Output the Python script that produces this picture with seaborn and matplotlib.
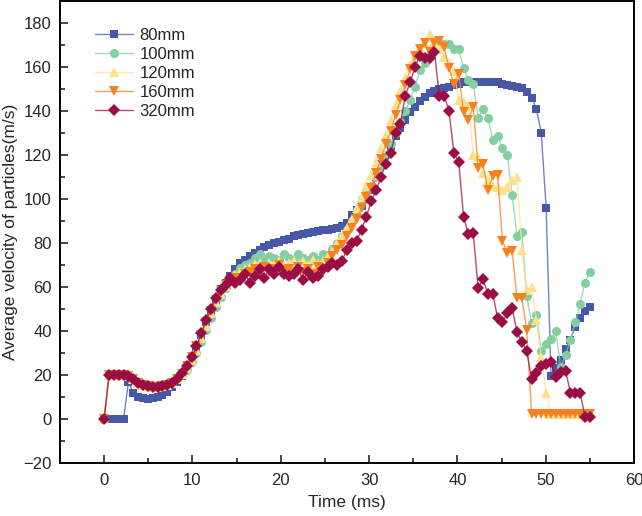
import numpy as np
import pandas as pd
import seaborn as sns
import matplotlib.pyplot as plt
from matplotlib.colors import to_rgb
from matplotlib.ticker import MultipleLocator

sns.set_style("ticks")
plt.rcParams['font.family'] = ['Liberation Sans', 'DejaVu Sans']

# time grid (ms), 101 samples from 0 to 55
time_ms = np.linspace(0, 55, 101)

v80 = [0, 0, 0, 0, 0, 17, 12, 10, 9.5, 9,
       9.5, 10, 11, 12.5, 14.5, 17, 19.5, 23, 27, 32,
       38, 44, 49, 54, 59, 62, 65, 68, 71, 72.5,
       74, 75.5, 77, 78, 79, 80, 80.5, 81.5, 82, 83,
       83.5, 84, 84.5, 85, 85.5, 86, 86, 86.5, 87, 87.5,
       89, 92.5, 95, 97, 100, 104, 110, 116, 120, 124,
       128.5, 132.5, 136, 139.5, 142, 144.5, 146.5, 148, 149, 150,
       150.5, 151, 152, 152.5, 153, 153, 153, 153, 153, 153,
       153, 153, 152.5, 152, 151.5, 151, 150.5, 148.5, 146, 141,
       130, 96, 19.5, 23, 27, 32, 36, 42, 46, 49,
       51]

v100 = [0, 20, 20, 20, 20, 19.5, 18, 16.5, 15.5, 15,
        14.5, 14.5, 15, 15.5, 16.5, 18, 20, 22.5, 26, 30,
        35, 40.5, 46, 51, 55.5, 59.5, 63, 66, 68.5, 70,
        71, 73, 75, 72.5, 74, 73, 72.5, 75, 73, 72,
        75, 73, 72.5, 74, 72.5, 75, 74.5, 77.5, 80, 83,
        86, 90, 95, 100, 103, 106, 110, 115, 120, 125,
        130, 135, 140, 145, 151, 158.5, 162, 166, 170, 171,
        170.5, 170.5, 168, 168, 159.5, 154, 152.5, 137, 141, 137,
        127, 128.5, 123, 120, 102, 83, 85, 56, 43.5, 47.5,
        31, 34, 36.5, 40, 23.5, 29, 36, 44, 52.5, 62,
        67]

v120 = [0, 20, 20, 20, 20, 19.5, 18, 16.5, 15.5, 15,
        14.5, 14.5, 15, 15.5, 16.5, 18, 20.5, 23, 27, 31.5,
        37, 42.5, 48, 53, 57, 60.5, 63, 65.5, 67, 68,
        69, 70.5, 71, 69, 71, 70, 72, 70, 71, 72,
        69.5, 72, 70, 72.5, 70.5, 72, 74, 76, 80, 83,
        87, 91, 96, 101, 106, 111, 117, 123, 129, 136,
        143, 149, 155, 161, 165, 168, 171, 175, 171, 168,
        164.5, 162, 158, 145, 144, 142.5, 120, 119, 112, 108.5,
        106, 105.5, 104, 105.5, 108.5, 110, 77, 58.5, 60, 45,
        28, 12, 2.5, 2.5, 2.5, 2.5, 2.5, 2.5, 2.5, 2.5,
        2.5]

v160 = [0, 20, 20, 20, 20, 19.5, 18, 16.5, 15.5, 15,
        14.5, 14.5, 15, 15.5, 16.5, 18, 20.5, 24, 28, 33,
        38, 44, 49, 54, 58, 61, 63, 64, 64, 66,
        67, 68, 66, 69, 67, 68, 70, 67, 68, 66,
        69, 67, 68, 66, 69, 67, 71, 74, 77, 79,
        83, 87, 91, 96, 101, 105, 112, 118, 125, 131,
        138, 145, 152, 159, 165, 168, 171, 167, 171, 172,
        169, 159.5, 152.5, 157, 139.5, 136, 142, 114, 116, 104,
        110.5, 111, 81, 75.5, 76.5, 55, 55, 40.5, 2.5, 2.5,
        2.5, 2.5, 2.5, 2.5, 2.5, 2.5, 2.5, 2.5, 2.5, 2.5,
        2.5]

v320 = [0, 20, 20, 20, 20, 19.5, 18, 16.5, 15.5, 15,
        14.5, 14.5, 15, 15.5, 16.5, 18, 21, 24, 28, 33,
        39, 45, 50, 55, 58.5, 61, 64, 62, 63, 66,
        62, 65, 68, 64, 68, 66, 69, 66, 65, 66,
        68, 63, 67, 64, 65, 68, 69, 71, 70, 72,
        77, 80, 81, 86, 92, 99, 104, 110, 116, 121,
        130, 134, 147, 153, 160, 165, 164, 164, 167, 147,
        147, 140, 121, 117, 92, 84, 84.5, 59.5, 63.5, 57,
        57, 46, 44, 48, 50.5, 39.5, 35, 31, 18, 21,
        24, 25, 26, 19, 21.5, 22, 12, 12, 12, 1,
        1]

labels = ['80mm', '100mm', '120mm', '160mm', '320mm']
series = [v80, v100, v120, v160, v320]
colors = ['#4858A8', '#84CFA2', '#FEE08B', '#FA7F1E', '#9B0D45']
markers = ['s', 'o', '^', 'v', 'D']
msizes = [6, 6.5, 7, 7, 6]

fig = plt.figure(figsize=(6.42, 5.16), dpi=100)
ax = fig.add_axes([60 / 642, 53 / 516, 574 / 642, 462 / 516])

for lab, vals, col, mk, ms in zip(labels, series, colors, markers, msizes):
    df = pd.DataFrame({'Time': time_ms, 'Velocity': vals})
    sns.lineplot(data=df, x='Time', y='Velocity', ax=ax, color=col,
                 marker=mk, markersize=ms, markeredgewidth=0,
                 linewidth=1, label=lab, estimator=None, sort=False)

# lighter connecting lines, solid markers
for ln in ax.get_lines():
    rgb = to_rgb(ln.get_color())
    ln.set_color((*rgb, 0.75))
    ln.set_markerfacecolor(rgb)

ax.set_xlim(-5, 60)
ax.set_ylim(-20, 190)
ax.xaxis.set_major_locator(MultipleLocator(10))
ax.xaxis.set_minor_locator(MultipleLocator(5))
ax.set_yticks(np.arange(-20, 181, 20))
ax.yaxis.set_minor_locator(MultipleLocator(10))
ax.tick_params(which='major', direction='in', length=6, width=1.2, labelsize=12)
ax.tick_params(axis='x', which='major', pad=7)
ax.tick_params(axis='y', which='major', pad=6)
ax.tick_params(which='minor', direction='in', length=3.5, width=1.2)
for sp in ax.spines.values():
    sp.set_linewidth(1.4)
    sp.set_color('black')

ax.set_xlabel('Time (ms)', fontsize=12.5, labelpad=5)
ax.set_ylabel('Average velocity of particles(m/s)', fontsize=12.5)

leg = ax.legend(loc='upper left', bbox_to_anchor=(0.035, 0.975), frameon=False,
                fontsize=12, handlelength=2.3, labelspacing=0.25, handletextpad=0.35)

fig.savefig('out.png', dpi=100)
